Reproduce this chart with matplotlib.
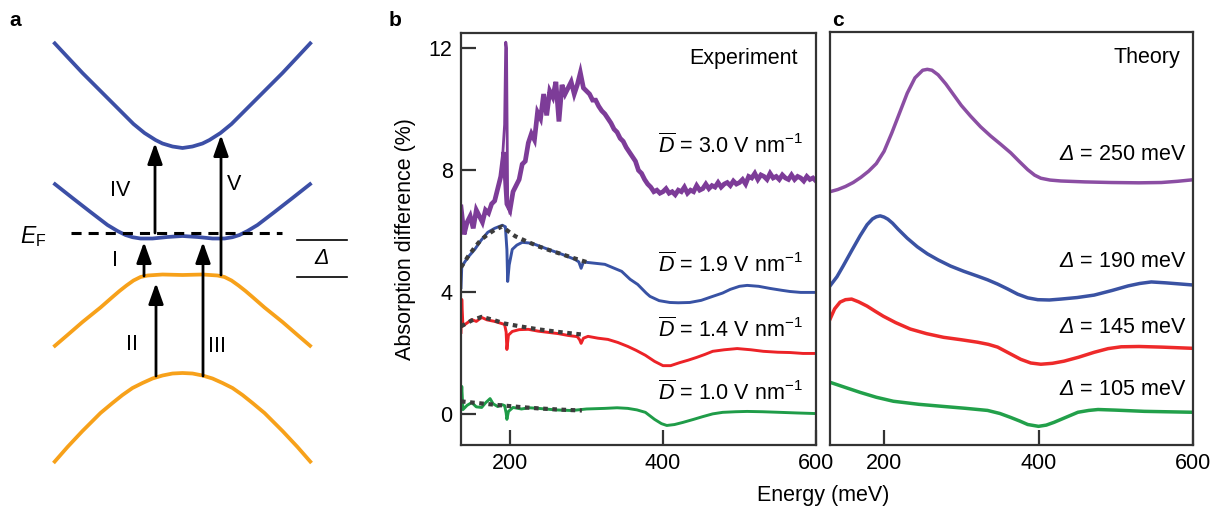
import numpy as np
import matplotlib
matplotlib.use("Agg")
import matplotlib.pyplot as plt

plt.rcParams["font.family"] = "Liberation Sans"
plt.rcParams["mathtext.fontset"] = "custom"
plt.rcParams["mathtext.rm"] = "Liberation Sans"
plt.rcParams["mathtext.it"] = "Liberation Sans:italic"
# mathtext forces Greek capitals upright in the "it" slot, so borrow the sf slot for an italic Delta
plt.rcParams["mathtext.sf"] = "Liberation Sans:italic"

# ---- panel a: band schematic (pixel-like coords, half profiles mirrored about the centre)
band_centre = 182.5
uc_off = [0, 10, 20, 27, 38, 49, 60, 70, 82, 100, 115, 129]
uc_y = [148, 146.5, 143.5, 140, 133, 124, 113, 103, 91, 73, 57, 42]
lc_off = [0, 15, 30, 42, 50, 57, 65, 75, 92, 110, 129]
lc_y = [236, 237, 238.5, 238.5, 237.2, 235, 231, 225, 212, 198, 183]
uv_off = [0, 20, 35, 42, 49, 56, 63, 70, 82, 100, 115, 129]
uv_y = [275, 274.5, 275.5, 277, 280.5, 285.5, 291, 297, 307.5, 322, 335, 347]
lv_off = [0, 10, 20, 30, 40, 50, 60, 70, 82, 100, 115, 129]
lv_y = [373, 373.5, 375.5, 378.5, 383, 388, 395, 403, 413, 431, 447, 463]
ef_level = 233
ef_span = (71, 282)
gap_lines = (240, 277)
gap_span = (297, 347)
# (x, start, tip)
arrows = [(144, 276, 242), (156, 376, 283), (203, 376, 242), (155, 233, 143), (221, 275, 135)]
arrow_labels = [("I", 115, 260), ("II", 132, 345), ("III", 217, 347), ("IV", 120, 190), ("V", 234, 185)]

# ---- panel b: experiment
blue_e = [136, 137, 145, 154, 162, 171, 180, 190, 194, 196, 197, 199, 203, 209, 216, 225, 233, 250, 268,
          285, 290, 293, 296, 302, 324, 346, 357, 367, 378, 383, 395, 409, 420, 435, 450, 465, 478, 488,
          500, 510, 525, 540, 555, 566, 580, 600]
blue_y = [4.16, 4.85, 5.15, 5.41, 5.7, 5.97, 6.1, 6.2, 6.15, 5.4, 4.36, 4.9, 5.41, 5.55, 5.64, 5.62, 5.57,
          5.41, 5.25, 5.08, 5.0, 4.79, 5.0, 4.98, 4.92, 4.69, 4.43, 4.26, 3.98, 3.87, 3.73, 3.67, 3.66, 3.67,
          3.74, 3.87, 3.98, 4.1, 4.2, 4.23, 4.2, 4.13, 4.07, 4.03, 4.0, 4.0]
red_e = [136, 137, 138.5, 144, 150, 156, 163, 170, 180, 193, 195, 196, 198, 203, 212, 224, 237, 250, 263,
         276, 288, 291, 293, 296, 302, 315, 328, 341, 354, 365, 377, 389, 400, 410, 422, 433, 444, 455, 465,
         480, 497, 515, 531, 550, 566, 583, 600]
red_y = [2.69, 3.77, 2.9, 3.0, 3.11, 3.05, 3.18, 3.1, 3.05, 2.95, 2.7, 2.13, 2.6, 2.72, 2.78, 2.79, 2.73,
         2.69, 2.65, 2.59, 2.55, 2.45, 2.33, 2.5, 2.56, 2.5, 2.46, 2.36, 2.23, 2.1, 1.94, 1.74, 1.6, 1.6, 1.7,
         1.78, 1.87, 1.97, 2.07, 2.12, 2.16, 2.12, 2.07, 2.04, 2.03, 2.0, 2.0]
green_e = [136, 137, 138.5, 144, 150, 156, 163, 168, 174, 178, 184, 190, 193, 195, 196, 198, 204, 215, 225,
           237, 260, 281, 300, 324, 340, 354, 366, 377, 389, 398, 405, 415, 426, 440, 452, 465, 478, 495,
           510, 530, 553, 575, 600]
green_y = [0.39, 0.92, 0.16, 0.3, 0.39, 0.25, 0.23, 0.38, 0.52, 0.35, 0.26, 0.32, 0.29, 0.05, -0.16, 0.1,
           0.23, 0.18, 0.22, 0.2, 0.15, 0.13, 0.18, 0.2, 0.22, 0.2, 0.15, 0.07, -0.16, -0.3, -0.36, -0.33,
           -0.26, -0.16, -0.07, 0.02, 0.07, 0.09, 0.1, 0.09, 0.07, 0.05, 0.03]
# purple trace, read every 4 meV from 136 meV
purple_y = [6.8, 5.9, 6.3, 6.5, 6.1, 6.7, 6.5, 6.3, 6.7, 6.6, 6.9, 7.0, 7.4, 7.8,
            8.6, 6.9, 6.7,
            7.3, 7.5, 7.7, 8.2, 8.3, 8.9, 9.2, 9.0, 9.9, 9.7, 10.5, 9.8, 10.6, 10.4, 10.9, 9.6, 10.8,
            10.5, 10.7, 10.9, 10.5, 10.8, 11.2, 10.7, 10.6, 10.5, 10.3, 10.3, 10.1, 9.95, 9.85, 9.7,
            9.55, 9.35, 9.25, 9.05, 8.95, 8.75, 8.6, 8.45, 8.3, 8.0, 7.9, 7.7, 7.55, 7.45, 7.3, 7.35,
            7.25, 7.3, 7.4, 7.25, 7.3, 7.2, 7.35, 7.3, 7.45, 7.25, 7.35, 7.3, 7.5, 7.35, 7.4, 7.55,
            7.4, 7.5, 7.45, 7.6, 7.45, 7.55, 7.6, 7.5, 7.65, 7.55, 7.6, 7.7, 7.55, 7.8, 7.75, 7.9,
            7.7, 7.85, 7.8, 7.7, 7.9, 7.75, 7.8, 7.7, 7.85, 7.75, 7.7, 7.85, 7.7, 7.8, 7.75, 7.65,
            7.8, 7.7, 7.75, 7.65]
spike_e = [190, 193, 194.5, 195.5, 197, 200]
spike_y = [8.3, 9.5, 12.2, 12.0, 7.0, 6.6]
blue_fit_e = [136, 145, 154, 162, 171, 180, 190, 198, 207, 222, 237, 252, 268, 285, 302]
blue_fit_y = [4.82, 5.17, 5.48, 5.72, 5.9, 6.05, 6.16, 6.0, 5.84, 5.67, 5.51, 5.38, 5.25, 5.11, 4.98]
red_fit_e = [136, 150, 163, 178, 193, 215, 237, 265, 294]
red_fit_y = [2.89, 3.08, 3.2, 3.1, 2.98, 2.88, 2.79, 2.7, 2.62]
green_fit_e = [136, 163, 193, 215, 237, 265, 294]
green_fit_y = [0.43, 0.36, 0.29, 0.24, 0.2, 0.16, 0.13]
field_labels = ["3.0", "1.9", "1.4", "1.0"]
field_label_y = [8.79, 4.89, 2.79, 0.72]

# ---- panel c: theory
th_purple_e = [130, 140, 150, 160, 170, 180, 190, 200, 210, 220, 230, 240, 250, 256, 262, 270, 280, 290,
               300, 312, 325, 338, 351, 364, 375, 386, 395, 403, 415, 429, 460, 494, 530, 559, 580, 600]
th_purple_y = [7.28, 7.35, 7.45, 7.58, 7.75, 7.95, 8.2, 8.6, 9.2, 9.85, 10.5, 11.0, 11.25, 11.28, 11.25,
               11.1, 10.8, 10.45, 10.1, 9.75, 9.4, 9.1, 8.83, 8.55, 8.27, 8.0, 7.82, 7.72, 7.66, 7.63,
               7.6, 7.58, 7.57, 7.58, 7.62, 7.67]
th_blue_e = [130, 139, 147, 158, 169, 178, 185, 190, 195, 200, 205, 211, 218, 230, 243, 256, 270, 286, 303,
             321, 334, 347, 360, 373, 386, 399, 414, 429, 450, 472, 495, 516, 531, 546, 565, 600]
th_blue_y = [4.2, 4.5, 4.85, 5.35, 5.84, 6.2, 6.39, 6.46, 6.49, 6.45, 6.38, 6.25, 6.06, 5.76, 5.48,
             5.25, 5.05, 4.85, 4.68, 4.52, 4.4, 4.26, 4.1, 3.93, 3.81, 3.75, 3.74, 3.77, 3.82, 3.9, 4.05,
             4.2, 4.28, 4.33, 4.3, 4.23]
th_red_e = [130, 136, 143, 150, 158, 167, 178, 188, 199, 215, 234, 255, 277, 300, 321, 335, 347, 362, 377,
            390, 403, 418, 433, 452, 472, 490, 507, 530, 559, 600]
th_red_y = [3.11, 3.45, 3.67, 3.75, 3.77, 3.68, 3.54, 3.38, 3.21, 3.0, 2.79, 2.64, 2.52, 2.44, 2.36, 2.29,
            2.2, 2.0, 1.8, 1.68, 1.64, 1.67, 1.74, 1.87, 2.03, 2.15, 2.21, 2.22, 2.2, 2.16]
th_green_e = [130, 150, 169, 190, 212, 245, 277, 305, 334, 350, 364, 376, 386, 400, 410, 420, 435, 451,
              465, 477, 500, 537, 600]
th_green_y = [1.05, 0.88, 0.72, 0.56, 0.43, 0.33, 0.26, 0.2, 0.13, 0.03, -0.1, -0.22, -0.33, -0.39, -0.35,
              -0.26, -0.1, 0.07, 0.13, 0.16, 0.14, 0.1, 0.07]
gap_labels = ["250", "190", "145", "105"]
gap_label_y = [8.49, 5.0, 2.85, 0.82]

BAND_BLUE = "#3c4fa6"
BAND_ORANGE = "#f7a11a"
SPINE = "#333333"
FS = 15.5
DELTA = r"$\mathsf{Δ}$"


def mirror(offsets, values, centre):
    off = np.asarray(offsets, float)
    val = np.asarray(values, float)
    x = np.concatenate([centre - off[::-1], centre + off[1:]])
    y = np.concatenate([val[::-1], val[1:]])
    return x, y


def style_axes(ax):
    for s in ax.spines.values():
        s.set_color(SPINE)
        s.set_linewidth(1.6)
    ax.tick_params(direction="in", length=11, width=1.6, color=SPINE,
                   labelsize=FS, pad=6, top=False, right=False)


fig = plt.figure(figsize=(12.17, 5.08), dpi=100)

# Panel a
ax_a = fig.add_axes([0, 0, 400 / 1217, 1])
ax_a.set_xlim(0, 400)
ax_a.set_ylim(508, 0)
ax_a.axis("off")
for off, vals, col in [(uc_off, uc_y, BAND_BLUE), (lc_off, lc_y, BAND_BLUE),
                       (uv_off, uv_y, BAND_ORANGE), (lv_off, lv_y, BAND_ORANGE)]:
    bx, by = mirror(off, vals, band_centre)
    ax_a.plot(bx, by, color=col, lw=2.7, solid_capstyle="butt", solid_joinstyle="round")
ax_a.plot(ef_span, [ef_level, ef_level], color="black", lw=2.2, ls=(0, (3.3, 2.3)))
for yl in gap_lines:
    ax_a.plot(gap_span, [yl, yl], color="black", lw=1.2)
ax_a.text(322, (gap_lines[0] + gap_lines[1]) / 2, DELTA, fontsize=FS, ha="center", va="center")
ax_a.text(20, ef_level + 4, r"$E_{\mathrm{F}}$", fontsize=FS + 1, ha="left", va="center")
for x, y0, y1 in arrows:
    ax_a.annotate("", xy=(x, y1), xytext=(x, y0),
                  arrowprops=dict(arrowstyle="-|>,head_length=0.7,head_width=0.25",
                                  color="black", lw=2, mutation_scale=18, shrinkA=0, shrinkB=0))
for txt, x, y in arrow_labels:
    ax_a.text(x, y, txt, fontsize=FS, ha="center", va="center")

# Panel b
ax_b = fig.add_axes([461 / 1217, 63 / 508, 355 / 1217, 412 / 508])
ax_b.plot(136 + 4 * np.arange(len(purple_y)), purple_y, color="#7d3c98", lw=3.4, solid_joinstyle="miter")
ax_b.plot(spike_e, spike_y, color="#7d3c98", lw=2.0)
ax_b.plot(blue_e, blue_y, color="#3852a4", lw=2.1)
ax_b.plot(red_e, red_y, color="#ec2227", lw=2.1)
ax_b.plot(green_e, green_y, color="#1f9c48", lw=2.1)
for fe, fy in [(blue_fit_e, blue_fit_y), (red_fit_e, red_fit_y), (green_fit_e, green_fit_y)]:
    ax_b.plot(fe, fy, color="#3c3c3c", lw=3, ls=(0, (1.1, 1.1)), dash_capstyle="butt")
ax_b.set_xlim(136, 600)
ax_b.set_ylim(-1, 12.5)
ax_b.set_xticks([200, 400, 600])
ax_b.set_yticks([0, 4, 8, 12])
ax_b.set_ylabel("Absorption difference (%)", fontsize=FS, labelpad=9)
style_axes(ax_b)
ax_b.text(576, 11.67, "Experiment", fontsize=FS, ha="right", va="center")
for lab, yl in zip(field_labels, field_label_y):
    ax_b.text(582, yl, r"$\overline{D}$ = " + lab + r" V nm$^{-1}$", fontsize=FS,
              ha="right", va="center")

# Panel c
ax_c = fig.add_axes([830 / 1217, 63 / 508, 363 / 1217, 413 / 508])
ax_c.plot(th_purple_e, th_purple_y, color="#8b4ea3", lw=2.5)
ax_c.plot(th_blue_e, th_blue_y, color="#3a52a3", lw=2.5)
ax_c.plot(th_red_e, th_red_y, color="#ee2a2a", lw=2.5)
ax_c.plot(th_green_e, th_green_y, color="#22a04a", lw=2.5)
ax_c.set_xlim(130, 600)
ax_c.set_ylim(-1, 12.5)
ax_c.set_xticks([200, 400, 600])
ax_c.set_yticks([])
style_axes(ax_c)
ax_c.text(584, 11.67, "Theory", fontsize=FS, ha="right", va="center")
for lab, yl in zip(gap_labels, gap_label_y):
    ax_c.text(591, yl, DELTA + " = " + lab + " meV", fontsize=FS, ha="right", va="center")

fig.text(823 / 1217, 1 - 495 / 508, "Energy (meV)", fontsize=FS, ha="center", va="center")
for letter, x in [("a", 15), ("b", 395), ("c", 838)]:
    fig.text(x / 1217, 1 - 20 / 508, letter, fontsize=15, fontweight="bold", ha="center", va="center")

fig.savefig("out.png", dpi=100)
